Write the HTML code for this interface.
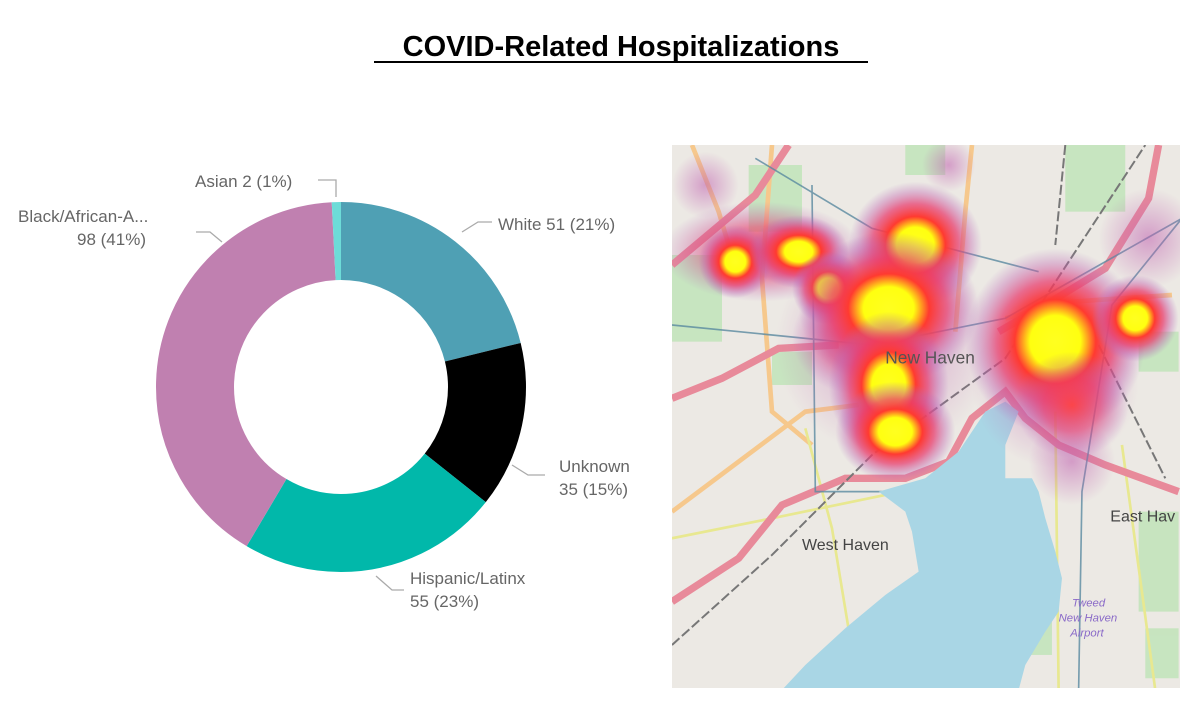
<!DOCTYPE html>
<html><head><meta charset="utf-8"><style>
body{margin:0;background:#fff;width:1200px;height:715px;overflow:hidden;font-family:"Liberation Sans",sans-serif}
</style></head><body>
<svg width="1200" height="715" viewBox="0 0 1200 715" xmlns="http://www.w3.org/2000/svg">
<defs>
<radialGradient id="h"><stop offset="0" stop-color="#ffff20"/><stop offset="0.28" stop-color="#ffff10"/><stop offset="0.45" stop-color="#ff3a30"/><stop offset="0.65" stop-color="#e84070" stop-opacity="0.75"/><stop offset="0.85" stop-color="#c060b0" stop-opacity="0.35"/><stop offset="1" stop-color="#b070c0" stop-opacity="0"/></radialGradient>
<radialGradient id="r"><stop offset="0" stop-color="#ff4040" stop-opacity="0.9"/><stop offset="0.5" stop-color="#e84070" stop-opacity="0.6"/><stop offset="1" stop-color="#b060c0" stop-opacity="0"/></radialGradient>
<radialGradient id="p"><stop offset="0" stop-color="#c060b0" stop-opacity="0.55"/><stop offset="1" stop-color="#c060b0" stop-opacity="0"/></radialGradient>
<clipPath id="mc"><rect x="672" y="145" width="508" height="543"/></clipPath>
</defs>
<text x="621" y="56" text-anchor="middle" font-size="29" font-weight="bold" fill="#000">COVID-Related Hospitalizations</text>
<line x1="374" y1="62" x2="868" y2="62" stroke="#000" stroke-width="2"/>
<g transform="rotate(-90 341 387)">
<circle cx="341" cy="387" r="146" fill="none" stroke="#4fa0b4" stroke-width="78" stroke-dasharray="194.1 917.3" stroke-dashoffset="0"/>
<circle cx="341" cy="387" r="146" fill="none" stroke="#000" stroke-width="78" stroke-dasharray="133.2 917.3" stroke-dashoffset="-194.1"/>
<circle cx="341" cy="387" r="146" fill="none" stroke="#01b8aa" stroke-width="78" stroke-dasharray="209.3 917.3" stroke-dashoffset="-327.3"/>
<circle cx="341" cy="387" r="146" fill="none" stroke="#c080b0" stroke-width="78" stroke-dasharray="373 917.3" stroke-dashoffset="-536.6"/>
<circle cx="341" cy="387" r="146" fill="none" stroke="#6ddcd8" stroke-width="78" stroke-dasharray="7.6 917.3" stroke-dashoffset="-909.6"/>
</g>
<g fill="none" stroke="#aaa" stroke-width="1.3">
<polyline points="318,180 336,180 336,197"/>
<polyline points="462,232 478,222 492,222"/>
<polyline points="512,465 528,475 545,475"/>
<polyline points="376,576 392,590 404,590"/>
<polyline points="222,242 210,232 196,232"/>
</g>
<g font-size="17" fill="#666">
<text x="195" y="187">Asian 2 (1%)</text>
<text x="498" y="230">White 51 (21%)</text>
<text x="559" y="472">Unknown</text>
<text x="559" y="495">35 (15%)</text>
<text x="410" y="584">Hispanic/Latinx</text>
<text x="410" y="607">55 (23%)</text>
<text x="18" y="222">Black/African-A...</text>
<text x="77" y="245">98 (41%)</text>
</g>
<g clip-path="url(#mc)">
<rect x="672" y="145" width="508" height="543" fill="#ece9e4"/>
<g transform="translate(672,145) scale(0.3333)">
<g fill="#c3e4bb" opacity="0.9">
<rect x="0" y="330" width="150" height="260"/><rect x="230" y="60" width="160" height="200"/>
<rect x="700" y="0" width="120" height="90"/><rect x="1180" y="0" width="180" height="200"/>
<rect x="300" y="620" width="120" height="100"/><rect x="1400" y="560" width="120" height="120"/>
<rect x="1400" y="1100" width="120" height="300"/><rect x="1020" y="1380" width="120" height="150"/>
<rect x="1420" y="1450" width="100" height="150"/>
</g>
<g fill="none" stroke="#f6c88c" stroke-width="14">
<path d="M0,1100 L200,950 L400,800 L560,780"/><path d="M60,0 L140,200 L200,400"/>
<path d="M900,0 L880,200 L850,560"/><path d="M1500,450 L1200,470 L1000,520"/>
<path d="M300,0 L270,400 L300,800 L420,900"/>
</g>
<g fill="none" stroke="#e8e890" stroke-width="8">
<path d="M400,850 L480,1150 L560,1635"/><path d="M0,1180 L300,1120 L640,1050"/>
<path d="M1150,800 L1160,1635"/><path d="M1350,900 L1450,1635"/>
</g>
<g fill="none" stroke="#e88a9a" stroke-width="22">
<path d="M0,1370 L200,1240 L330,1080 L520,1000 L700,1000 L830,950 L900,820 L1000,740 L1060,820 L1160,900 L1300,960 L1520,1040"/>
<path d="M0,760 L150,700 L320,610 L500,600"/>
<path d="M0,360 L250,150 L350,0"/>
<path d="M1460,0 L1430,160 L1300,370 L1120,480 L980,560"/>
</g>
<g fill="none" stroke="#777" stroke-width="6" stroke-dasharray="30 10">
<path d="M0,1500 L300,1230 L600,930 L1000,640 L1420,0"/><path d="M1180,0 L1150,300"/><path d="M1280,600 L1480,1000"/>
</g>
<g fill="none" stroke="#5a8aa0" stroke-width="5" opacity="0.8">
<path d="M0,540 L600,600 L1000,520 L1530,220"/><path d="M420,120 L430,1040 L650,1040"/>
<path d="M250,40 L600,250 L1100,380"/><path d="M1220,1635 L1230,1040 L1320,480 L1530,220"/>
</g>
<path fill="#a9d6e5" d="M620,1040 L760,1000 L860,920 L940,800 L1000,770 L1040,800 L1000,900 L1000,1000 L1080,1000 L1100,1040 L1120,1120 L1150,1220 L1170,1300 L1160,1400 L1120,1460 L1060,1560 L1040,1635 L330,1635 L400,1560 L520,1450 L640,1350 L740,1280 L720,1160 L700,1100 Z"/>
<circle cx="830" cy="60" r="80" fill="url(#p)"/>
<circle cx="1430" cy="280" r="150" fill="url(#p)"/>
<circle cx="1200" cy="950" r="130" fill="url(#p)"/>
<circle cx="100" cy="120" r="100" fill="url(#p)"/>
<circle cx="1150" cy="720" r="250" fill="url(#p)"/>
<circle cx="640" cy="600" r="330" fill="url(#p)"/>
<ellipse cx="270" cy="320" rx="300" ry="150" fill="url(#r)"/>
<circle cx="190" cy="350" r="110" fill="url(#h)"/>
<ellipse cx="380" cy="320" rx="150" ry="110" fill="url(#h)"/>
<circle cx="470" cy="430" r="110" fill="url(#h)"/>
<ellipse cx="560" cy="580" rx="200" ry="170" fill="url(#r)"/>
<ellipse cx="730" cy="300" rx="200" ry="190" fill="url(#h)"/>
<ellipse cx="650" cy="490" rx="270" ry="230" fill="url(#h)"/>
<ellipse cx="650" cy="720" rx="180" ry="220" fill="url(#h)"/>
<ellipse cx="670" cy="860" rx="180" ry="150" fill="url(#h)"/>
<ellipse cx="1150" cy="590" rx="270" ry="280" fill="url(#h)"/>
<circle cx="1390" cy="520" r="130" fill="url(#h)"/>
<ellipse cx="1200" cy="780" rx="170" ry="160" fill="url(#r)"/>
<text x="640" y="655" font-size="52" fill="#555">New Haven</text>
<text x="390" y="1215" font-size="48" fill="#444">West Haven</text>
<text x="1315" y="1130" font-size="48" fill="#444">East Hav</text>
<text x="1200" y="1385" font-size="34" fill="#8a6ac8" font-style="italic">Tweed</text>
<text x="1160" y="1430" font-size="34" fill="#8a6ac8" font-style="italic">New Haven</text>
<text x="1195" y="1475" font-size="34" fill="#8a6ac8" font-style="italic">Airport</text>
</g>
</g>
</svg>
</body></html>
